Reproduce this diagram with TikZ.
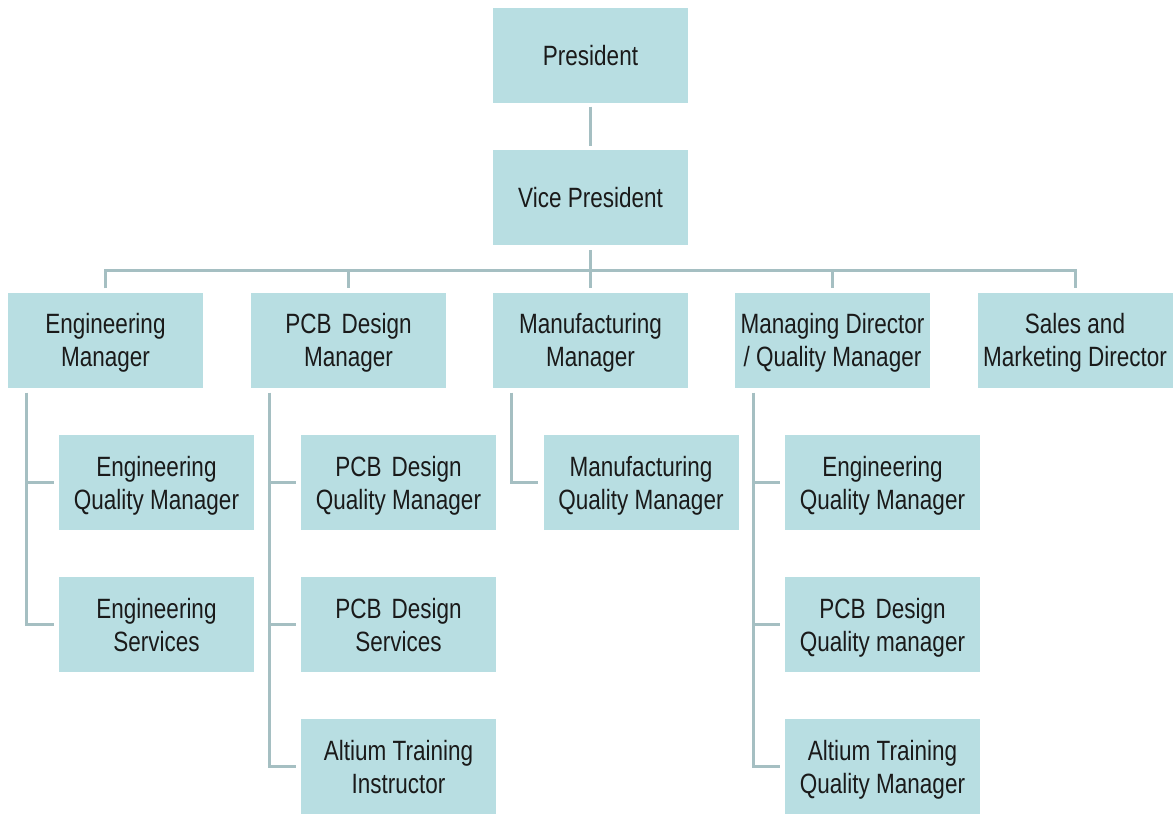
\documentclass[tikz,border=0pt]{standalone}
\usepackage{fontspec}
\usepackage{graphicx}
\setmainfont{Liberation Sans}
\definecolor{boxfill}{HTML}{B8DEE2}
\definecolor{linec}{HTML}{A5BFC2}
\definecolor{txt}{HTML}{1A1A1A}
\newcommand{\lbl}[1]{\raisebox{-3.5pt}[\height][\depth]{\scalebox{1}[1.24]{\fontsize{22.5}{26.6}\selectfont\begin{tabular}{@{}c@{}}#1\end{tabular}}}}
\begin{document}
\begin{tikzpicture}[x=1pt,y=-1pt,
  box/.style={fill=boxfill,draw=none,minimum width=195pt,minimum height=95pt,inner sep=0pt,
    align=center,text=txt},
  conn/.style={draw=linec,line width=3pt}]
\useasboundingbox (0,0) rectangle (1175,815);
% nodes
\node[box] (pres) at (590.5,55) {\lbl{President}};
\node[box] (vp) at (590.5,197.5) {\lbl{Vice President}};
\node[box] (em) at (105.5,340) {\lbl{Engineering\\Manager}};
\node[box] (pcb) at (348.5,340) {\lbl{PCB\, Design\\Manager}};
\node[box] (mfg) at (590.5,340) {\lbl{Manufacturing\\Manager}};
\node[box] (mdq) at (832.5,340) {\lbl{Managing Director\\/ Quality Manager}};
\node[box] (ss) at (1075,340) {\lbl{Sales and\\Marketing Director}};
\node[box] (eqm) at (156.5,482.5) {\lbl{Engineering\\Quality Manager}};
\node[box] (es) at (156.5,624.5) {\lbl{Engineering\\Services}};
\node[box] (pqm) at (398.5,482.5) {\lbl{PCB\, Design\\Quality Manager}};
\node[box] (ps) at (398.5,624.5) {\lbl{PCB\, Design\\Services}};
\node[box] (ati) at (398.5,766.5) {\lbl{Altium Training\\Instructor}};
\node[box] (mqm) at (641,482.5) {\lbl{Manufacturing\\Quality Manager}};
\node[box] (eqm2) at (882.5,482.5) {\lbl{Engineering\\Quality Manager}};
\node[box] (pqm2) at (882.5,624.5) {\lbl{PCB\, Design\\Quality manager}};
\node[box] (atq) at (882.5,766.5) {\lbl{Altium Training\\Quality Manager}};
\coordinate (bus) at (590.5,270);
% connectors
\draw[conn,shorten <=4pt,shorten >=4pt] (pres) -- (vp);
\draw[conn,shorten <=5pt] (vp.south) -- (bus);
\draw[conn,shorten <=4pt,shorten >=4pt] (em.north) -- (em.north |- bus) -| (ss.north);
\draw[conn,shorten >=4pt] (pcb.north |- bus) -- (pcb.north);
\draw[conn,shorten >=4pt] (bus) -- (mfg.north);
\draw[conn,shorten >=4pt] (mdq.north |- bus) -- (mdq.north);
% side branches
\coordinate (emx) at ([xshift=19pt]em.south west);
\coordinate (pcbx) at ([xshift=19pt]pcb.south west);
\coordinate (mfgx) at ([xshift=19pt]mfg.south west);
\coordinate (mdqx) at ([xshift=19pt]mdq.south west);
\draw[conn,shorten <=5pt,shorten >=5pt] (emx) |- (es.west);
\draw[conn,shorten >=5pt] (emx |- eqm.west) -- (eqm.west);
\draw[conn,shorten <=5pt,shorten >=5pt] (pcbx) |- (ati.west);
\draw[conn,shorten >=5pt] (pcbx |- pqm.west) -- (pqm.west);
\draw[conn,shorten >=5pt] (pcbx |- ps.west) -- (ps.west);
\draw[conn,shorten <=5pt,shorten >=5pt] (mfgx) |- (mqm.west);
\draw[conn,shorten <=5pt,shorten >=5pt] (mdqx) |- (atq.west);
\draw[conn,shorten >=5pt] (mdqx |- eqm2.west) -- (eqm2.west);
\draw[conn,shorten >=5pt] (mdqx |- pqm2.west) -- (pqm2.west);
\end{tikzpicture}
\end{document}
